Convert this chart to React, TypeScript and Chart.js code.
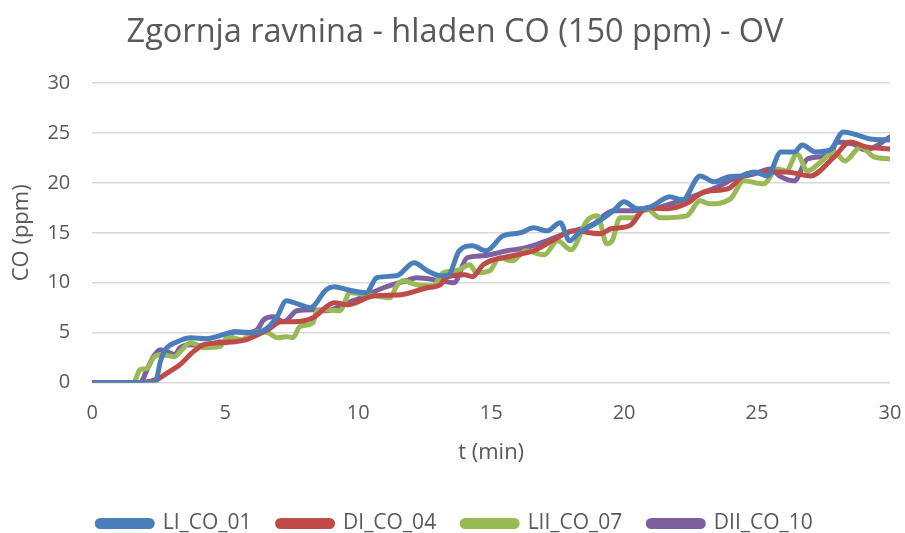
import React, { useEffect, useRef } from "react";
import { Chart, registerables } from "chart.js";

Chart.register(...registerables);

const title = "Zgornja ravnina - hladen CO (150 ppm) - OV";
const xTitle = "t (min)";
const yTitle = "CO (ppm)";
const seriesNames = ["LI_CO_01", "DI_CO_04", "LII_CO_07", "DII_CO_10"];
const seriesColors = ["#4a7ebb", "#be4b48", "#98b954", "#7d60a0"];

const tLI01 = [0, 1, 2, 2.37, 2.56, 2.75, 3.2, 3.7, 4.3, 4.8, 5.4, 6.1, 6.6, 6.95, 7.3, 7.8, 8.2, 8.8, 9.1, 9.6, 10.3, 10.7, 11.45, 12.1, 12.6, 13.1, 13.4, 13.8, 14.3, 14.8, 15.45, 16.1, 16.6, 17.1, 17.6, 17.95, 18.3, 18.96, 19.6, 20.0, 20.5, 21.0, 21.5, 21.7, 22.2, 22.86, 23.4, 23.9, 24.4, 24.9, 25.4, 25.9, 26.4, 26.7, 27.2, 27.75, 28.25, 28.75, 29.25, 30];
const vLI01 = [0, 0, 0, 0, 2.1, 3.3, 4.1, 4.5, 4.4, 4.7, 5.1, 5.0, 5.5, 6.6, 8.2, 7.8, 7.5, 9.3, 9.6, 9.3, 9.0, 10.5, 10.7, 12.0, 11.2, 10.7, 10.8, 13.2, 13.7, 13.2, 14.7, 15.0, 15.5, 15.2, 16.0, 14.2, 15.0, 16.0, 17.2, 18.1, 17.4, 17.6, 18.4, 18.6, 18.3, 20.7, 20.1, 20.6, 20.7, 21.1, 20.7, 23.1, 23.1, 23.8, 23.1, 23.3, 25.1, 24.8, 24.4, 24.3];

const tDI04 = [0, 1, 1.8, 2.4, 2.9, 3.3, 3.8, 4.2, 4.8, 5.4, 5.8, 6.6, 7.1, 7.6, 8.3, 9.1, 9.6, 10.6, 11.6, 12.6, 13.1, 13.3, 14.0, 14.3, 14.7, 15.8, 16.6, 17.3, 18.1, 19.1, 19.5, 20.2, 20.85, 21.6, 22.4, 23.0, 23.9, 24.6, 25.4, 26.1, 27.0, 27.9, 28.5, 29.1, 30];
const vDI04 = [0, 0, 0, 0.3, 1.1, 1.8, 3.1, 3.8, 4.0, 4.1, 4.3, 5.3, 6.1, 6.1, 6.5, 8.0, 7.8, 8.7, 8.8, 9.5, 9.8, 10.5, 10.8, 10.6, 11.8, 12.7, 13.2, 14.2, 15.2, 14.9, 15.4, 15.7, 17.5, 17.4, 18.0, 19.1, 19.4, 20.9, 21.1, 21.1, 20.7, 22.6, 24.1, 23.6, 23.4];

const tLII07 = [0, 1, 1.55, 1.8, 2.06, 2.3, 2.56, 3.1, 3.3, 3.7, 4.2, 4.8, 5.1, 5.6, 6.2, 6.6, 6.95, 7.3, 7.55, 7.8, 8.3, 8.45, 8.8, 9.3, 9.7, 10.6, 11.2, 11.45, 11.7, 12.2, 12.8, 13.2, 13.7, 14.2, 14.45, 14.95, 15.3, 15.8, 16.3, 17.0, 17.5, 18.0, 18.6, 19.0, 19.35, 19.55, 19.85, 20.35, 20.85, 21.35, 22.35, 22.86, 23.2, 24.0, 24.5, 25.25, 25.75, 26.1, 26.5, 26.9, 27.4, 27.9, 28.3, 28.9, 29.4, 30];
const vLII07 = [0, 0, 0, 1.3, 1.4, 2.5, 2.8, 2.6, 3.1, 4.0, 3.5, 3.6, 4.6, 4.3, 5.1, 5.0, 4.5, 4.6, 4.5, 5.6, 6.0, 7.2, 7.3, 7.2, 9.0, 8.7, 8.5, 9.7, 10.2, 9.8, 9.7, 11.0, 11.2, 11.8, 11.0, 11.2, 12.5, 12.2, 13.2, 12.8, 14.2, 13.3, 16.2, 16.7, 13.9, 14.2, 16.5, 16.5, 17.4, 16.5, 16.7, 18.2, 17.9, 18.4, 20.2, 19.9, 21.4, 21.2, 22.9, 21.2, 22.1, 23.1, 22.2, 23.6, 22.6, 22.4];

const tDII10 = [0, 1, 1.8, 2.06, 2.3, 2.56, 2.9, 3.1, 3.3, 3.7, 4.3, 4.8, 5.05, 5.3, 5.8, 6.2, 6.45, 6.8, 7.2, 7.7, 8.3, 8.8, 9.6, 10.1, 10.95, 11.8, 12.2, 13.1, 13.6, 14.1, 14.7, 15.6, 16.3, 17.1, 17.85, 18.8, 19.6, 20.35, 21.1, 22.1, 22.86, 23.6, 24.1, 24.9, 25.5, 25.9, 26.4, 26.9, 27.75, 28.0, 28.6, 29.1, 30];
const vDII10 = [0, 0, 0, 1.3, 2.6, 3.3, 3.0, 2.8, 3.5, 3.8, 3.6, 4.1, 4.0, 5.1, 5.0, 5.3, 6.3, 6.6, 6.1, 7.2, 7.3, 7.2, 8.0, 8.5, 9.5, 10.2, 10.5, 10.2, 10.0, 12.5, 12.7, 13.2, 13.5, 14.2, 15.0, 15.8, 17.2, 17.2, 17.4, 18.2, 18.9, 19.7, 20.4, 20.9, 21.4, 20.6, 20.2, 22.4, 22.8, 24.1, 23.9, 23.3, 24.6];

const xTicks = [0, 5, 10, 15, 20, 25, 30];
const yTicks = [0, 5, 10, 15, 20, 25, 30];

const allT = [tLI01, tDI04, tLII07, tDII10];
const allV = [vLI01, vDI04, vLII07, vDII10];

const FONT = "'Open Sans', 'Noto Sans', sans-serif";
const GREY = "#595959";

export default function App() {
  const ref = useRef<HTMLCanvasElement | null>(null);
  useEffect(() => {
    if (!ref.current) return;
    const datasets = seriesNames.map((name, i) => ({
      label: name,
      data: allT[i].map((t, j) => ({ x: t, y: allV[i][j] })),
      borderColor: seriesColors[i],
      backgroundColor: seriesColors[i],
      borderWidth: 5,
      pointRadius: 0,
      tension: 0.4,
      cubicInterpolationMode: "monotone" as const,
      fill: false,
      borderCapStyle: "round" as const,
      borderJoinStyle: "round" as const,
    }));
    const chart = new Chart(ref.current, {
      type: "line",
      data: { datasets },
      options: {
        animation: false,
        responsive: false,
        maintainAspectRatio: false,
        layout: { padding: { left: 9, right: 4, top: 0, bottom: -11 } },
        plugins: {
          title: {
            display: true,
            text: title,
            color: GREY,
            font: { family: FONT, size: 32.5, weight: "normal" },
            padding: { top: 13, bottom: 31 },
          },
          legend: {
            position: "bottom",
            labels: {
              color: GREY,
              font: { family: FONT, size: 21 },
              boxWidth: 55,
              boxHeight: 6,
              useBorderRadius: true,
              borderRadius: 3,
              padding: 26,
            },
          },
          tooltip: { enabled: false },
        },
        scales: {
          x: {
            type: "linear",
            min: 0,
            max: 30,
            afterBuildTicks: (axis: any) => {
              axis.ticks = xTicks.map((v) => ({ value: v }));
            },
            afterFit: (axis: any) => {
              axis.paddingRight = 15;
              axis.paddingLeft = 0;
            },
            grid: { display: false },
            border: { display: false },
            ticks: { color: GREY, font: { family: FONT, size: 20 }, padding: 11 },
            title: {
              display: true,
              text: xTitle,
              color: GREY,
              font: { family: FONT, size: 22 },
              padding: { top: 3, bottom: 21 },
            },
          },
          y: {
            type: "linear",
            min: 0,
            max: 30,
            afterBuildTicks: (axis: any) => {
              axis.ticks = yTicks.map((v) => ({ value: v }));
            },
            grid: { color: "#d9d9d9", lineWidth: 1.5, drawTicks: false },
            border: { display: false },
            ticks: { color: GREY, font: { family: FONT, size: 20 }, padding: 22 },
            title: {
              display: true,
              text: yTitle,
              color: GREY,
              font: { family: FONT, size: 22 },
              padding: { top: 0, bottom: -10 },
            },
          },
        },
      },
    });
    return () => chart.destroy();
  }, []);
  return (
    <div style={{ position: "fixed", left: 0, top: 0, width: 905, height: 533, background: "#fff" }}>
      <canvas ref={ref} width={905} height={533} />
    </div>
  );
}
